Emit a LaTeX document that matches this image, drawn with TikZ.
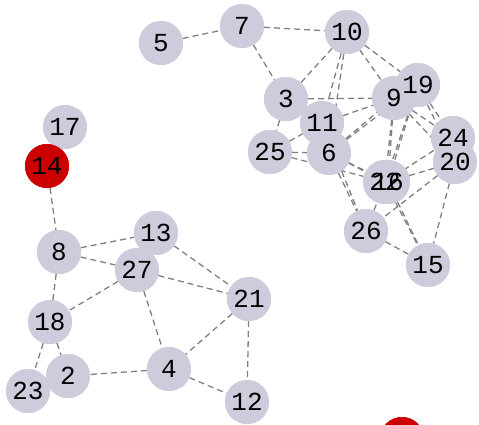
\documentclass[tikz,border=0pt]{standalone}
\usepackage{fontspec}
\newfontfamily\monofnt{Liberation Mono}
\definecolor{nodegray}{RGB}{204,204,220}
\definecolor{nodered}{RGB}{204,0,0}
\definecolor{edgegray}{RGB}{128,128,128}
\tikzset{
  vtx/.style={circle, fill=nodegray, minimum size=44pt, inner sep=0pt},
  redvtx/.style={circle, fill=nodered, minimum size=44pt, inner sep=0pt},
  lbl/.style={inner sep=0pt, text=black, font=\monofnt\fontsize{26}{26}\selectfont},
  ed/.style={draw=edgegray, line width=1.3pt, dash pattern=on 6pt off 4pt}
}
\begin{document}
\begin{tikzpicture}[x=1pt,y=-1pt]
\useasboundingbox (0,0) rectangle (479,425);
\clip (0,0) rectangle (479,425);
% coordinates for vertices
\coordinate (p5) at (161,43);
\coordinate (p7) at (242,26);
\coordinate (p10) at (347,32);
\coordinate (p3) at (286,99);
\coordinate (p11) at (322,123);
\coordinate (p25) at (270,152);
\coordinate (p6) at (329,153);
\coordinate (p9) at (394,98);
\coordinate (p19) at (418,85);
\coordinate (p24) at (453,138);
\coordinate (p20) at (455,162);
\coordinate (p22) at (385,182);
\coordinate (p16) at (388,182);
\coordinate (p26) at (366,231);
\coordinate (p15) at (428,265);
\coordinate (p17) at (65,127);
\coordinate (p14) at (47,166);
\coordinate (p13) at (156,233);
\coordinate (p8) at (59,252);
\coordinate (p27) at (137,270);
\coordinate (p21) at (249,299);
\coordinate (p18) at (50,322);
\coordinate (p2) at (68,376);
\coordinate (p23) at (28,391);
\coordinate (p4) at (169,369);
\coordinate (p12) at (247,402);
\coordinate (p0) at (402,439);
% vertices (circles)
\foreach \n in {5,7,10,3,19,9,11,24,20,25,6,22,16,26,15,17,13,8,27,21,18,2,4,23,12}
  \node[vtx] (n\n) at (p\n) {};
\node[redvtx] (n14) at (p14) {};
\node[redvtx] (n0) at (p0) {};
% edges
\begin{scope}[on background layer/.style={}]
\end{scope}
\foreach \a/\b in {5/7,7/10,7/3,10/3,10/11,10/6,10/9,10/19,3/9,3/25,11/9,25/11,25/6,25/22,
  6/9,6/19,6/22,6/16,6/26,11/26,9/22,9/16,19/22,19/16,9/24,9/20,19/24,19/20,22/24,16/20,
  20/26,20/15,26/15,16/15,22/15,26/22,
  14/8,8/13,8/27,8/18,13/21,27/21,27/18,27/4,21/4,21/12,4/2,4/12,18/2,18/23}
  \draw[ed] (n\a) -- (n\b);
% redraw circles on top of edges
\foreach \n in {5,7,10,3,19,9,11,24,20,25,6,22,16,26,15,17,13,8,27,21,18,2,4,23,12}
  \fill[nodegray] (n\n.center) circle (22pt);
\fill[nodered] (n14.center) circle (22pt);
\fill[nodered] (n0.center) circle (22pt);
% labels
\foreach \n in {5,7,10,3,19,9,11,24,20,25,6,22,16,26,15,17,14,13,8,27,21,18,2,4,23,12}
  \node[lbl] (t\n) at (n\n.center) {\n};
\end{tikzpicture}
\end{document}
